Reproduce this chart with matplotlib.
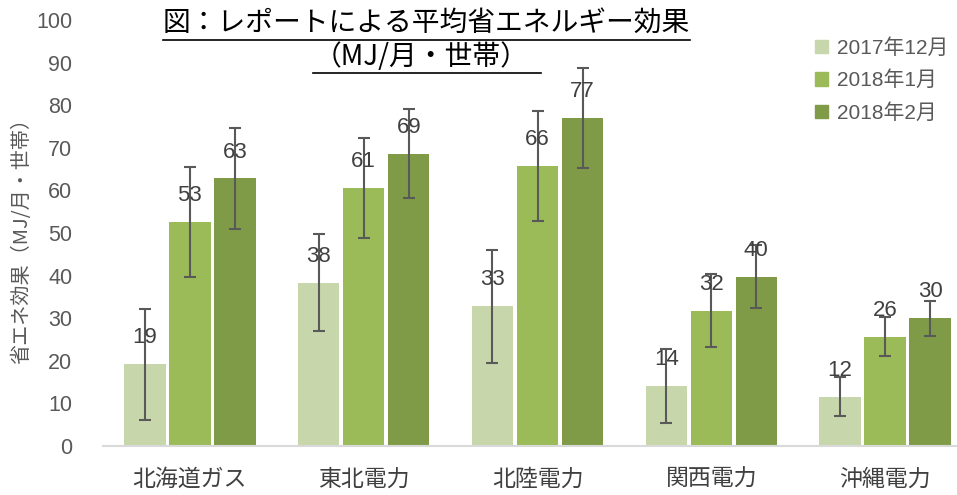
import numpy as np
import matplotlib.pyplot as plt
from matplotlib.lines import Line2D
from matplotlib.patches import Patch

companies = ['北海道ガス', '東北電力', '北陸電力', '関西電力', '沖縄電力']
months = ['2017年12月', '2018年1月', '2018年2月']

# average savings (MJ / month / household)
dec2017 = [19.2, 38.3, 32.8, 14.1, 11.6]
jan2018 = [52.6, 60.6, 65.7, 31.8, 25.7]
feb2018 = [62.8, 68.6, 77.0, 39.7, 30.0]

# error bar half-widths
err_dec = [13.0, 11.4, 13.2, 8.6, 4.5]
err_jan = [13.0, 11.7, 13.0, 8.6, 4.6]
err_feb = [11.9, 10.4, 11.8, 7.4, 4.1]

colors = ['#c8d6ac', '#9bbb59', '#7f9b48']
jp = ['Noto Sans CJK JP', 'DejaVu Sans']
num = ['Liberation Sans', 'Noto Sans CJK JP']

fig = plt.figure(figsize=(9.57, 4.95), dpi=100)
ax = fig.add_axes([103 / 957, 49 / 495, 869 / 957, 426 / 495])

x = np.arange(len(companies))
w = 0.238
step = 0.259
series = [dec2017, jan2018, feb2018]
errs = [err_dec, err_jan, err_feb]

for i, (vals, err) in enumerate(zip(series, errs)):
    xs = x + (i - 1) * step
    ax.bar(xs, vals, width=w, color=colors[i], label=months[i], zorder=2)
    ax.errorbar(xs, vals, yerr=err, fmt='none', ecolor='#595959',
                elinewidth=1.5, capsize=4.3, capthick=1.5, zorder=3)
    for xi, v in zip(xs, vals):
        ax.annotate(f'{round(v)}', (xi, v), xytext=(0, 19), textcoords='offset points',
                    ha='center', va='center', fontsize=16, color='#404040',
                    family=num, zorder=4)

ax.set_xlim(-0.5, 4.5)
ax.set_ylim(0, 100)
ax.set_yticks(range(0, 101, 10))
ax.set_xticks(x)
ax.set_xticklabels(companies, family=jp, fontsize=16.5, color='#404040')
for lab in ax.get_yticklabels():
    lab.set_family(num)
ax.tick_params(axis='y', length=0, pad=22, labelsize=15.5, labelcolor='#595959')
ax.tick_params(axis='x', length=0, pad=16)
for s in ['top', 'right', 'left']:
    ax.spines[s].set_visible(False)
ax.spines['bottom'].set_color('#d9d9d9')
ax.spines['bottom'].set_linewidth(1.5)

fig.text(22 / 957, 1 - 236 / 495, '省エネ効果（MJ/月・世帯）', rotation=90,
         ha='center', va='center', fontsize=14.5, color='#595959', family=jp)

# title with underlines
fig.text(426 / 957, 1 - 23 / 495, '図：レポートによる平均省エネルギー効果',
         ha='center', va='center', fontsize=20, color='black', family=jp)
fig.text(421 / 957, 1 - 57 / 495, '（MJ/月・世帯）',
         ha='center', va='center', fontsize=20, color='black', family=jp)
fig.add_artist(Line2D([163 / 957, 690 / 957], [1 - 40 / 495, 1 - 40 / 495],
                      color='black', lw=1.2))
fig.add_artist(Line2D([313 / 957, 541 / 957], [1 - 73 / 495, 1 - 73 / 495],
                      color='black', lw=1.2))

handles = [Patch(color=c) for c in colors]
fig.legend(handles, months, loc='upper left', bbox_to_anchor=(805 / 957, 1 - 28 / 495),
           frameon=False, borderpad=0, handlelength=0.6, handleheight=0.6,
           handletextpad=0.45, labelspacing=0.6,
           prop={'family': num, 'size': 15}, labelcolor='#595959')

fig.savefig('out.png', dpi=100)
